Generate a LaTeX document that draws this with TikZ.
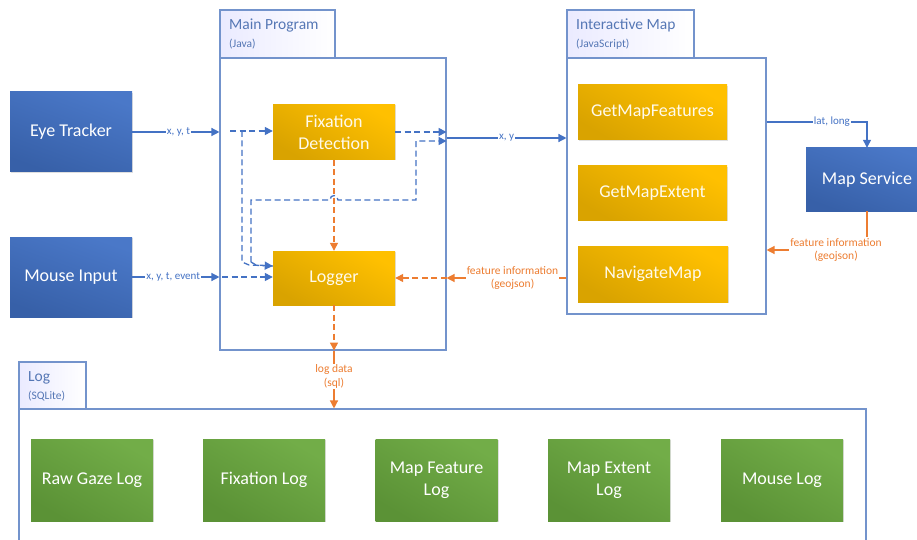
\documentclass[tikz,border=0pt]{standalone}
\usepackage{fontspec}
\setmainfont{Carlito}
\usetikzlibrary{arrows.meta,shadows,calc}
\definecolor{bluea}{HTML}{4A78C8}
\definecolor{blueb}{HTML}{3760A8}
\definecolor{orA}{HTML}{FFC000}
\definecolor{orB}{HTML}{D9A300}
\definecolor{grA}{HTML}{72AD48}
\definecolor{grB}{HTML}{5B9236}
\definecolor{frame}{HTML}{7393CC}
\definecolor{tabtxt}{HTML}{5577B5}
\definecolor{cblue}{HTML}{4472C4}
\definecolor{corange}{HTML}{ED7D31}
\tikzset{
  boxbase/.style={rectangle, inner sep=2pt, align=center, text=white,
    font=\fontsize{18}{22}\selectfont,
    drop shadow={shadow xshift=1pt, shadow yshift=-1pt, opacity=0.25}},
  bluebox/.style={boxbase, top color=bluea, bottom color=blueb, shading angle=-20,
    minimum width=122pt, minimum height=80pt},
  orbox/.style={boxbase, top color=orA, bottom color=orB, shading angle=-30, text=white!92!orA},
  grbox/.style={boxbase, top color=grA, bottom color=grB, shading angle=-30,
    minimum width=122pt, minimum height=82pt},
  container/.style={draw=frame, line width=1.1pt, fill=white},
  tab/.style={draw=frame, line width=1.1pt, left color=blue!8!white, right color=white},
  tabtitle/.style={anchor=base west, text=tabtxt, font=\fontsize{15.5}{18}\selectfont, inner sep=0pt},
  tabsub/.style={anchor=base west, text=tabtxt, font=\fontsize{11.5}{14}\selectfont, inner sep=0pt},
  bl/.style={draw=cblue, line width=1.3pt, -{Triangle[length=8pt,width=8pt]}},
  bld/.style={bl, dash pattern=on 6pt off 3.5pt},
  orl/.style={draw=corange, line width=1.3pt, -{Triangle[length=8pt,width=8pt]}},
  ord/.style={orl, dash pattern=on 6pt off 3.5pt},
  lblb/.style={fill=white, text=cblue, font=\fontsize{11}{13}\selectfont, inner sep=1pt, align=center},
  lblo/.style={fill=white, text=corange, font=\fontsize{11.5}{13.5}\selectfont, inner sep=1pt, align=center},
}
\begin{document}
\begin{tikzpicture}[x=1pt,y=-1pt]
\useasboundingbox (0,0) rectangle (917,540);
% containers
\node[tab, minimum width=115pt, minimum height=48pt, inner sep=0pt] (maintab) at (277.5,34) {};
\node[container, minimum width=226pt, minimum height=292pt, inner sep=0pt] (main) at (333,204) {};
\node[tabtitle] (mt1) at (229,30) {Main Program};
\node[tabsub] (mt2) at (229,48) {(Java)};
\node[tab, minimum width=127pt, minimum height=48pt, inner sep=0pt] (imtab) at (630.5,34) {};
\node[container, minimum width=199pt, minimum height=256pt, inner sep=0pt] (im) at (666.5,186) {};
\node[tabtitle] (it1) at (576,30) {Interactive Map};
\node[tabsub] (it2) at (576,48) {(JavaScript)};
\node[tab, minimum width=67pt, minimum height=47pt, inner sep=0pt] (logtab) at (52.5,385.5) {};
\node[container, minimum width=847pt, minimum height=150pt, inner sep=0pt] (log) at (442.5,484) {};
\node[tabtitle] (lt1) at (28,381) {Log};
\node[tabsub] (lt2) at (28,399) {(SQLite)};
% blue boxes
\node[bluebox] (eye) at (71,132) {Eye Tracker};
\node[bluebox] (mouse) at (71,277) {Mouse Input};
\node[bluebox, minimum height=63pt] (ms) at (867,179.5) {Map Service};
% orange
\node[orbox, minimum width=122pt, minimum height=55pt] (fd) at (334,132) {Fixation\\Detection};
\node[orbox, minimum width=122pt, minimum height=54pt] (logger) at (334,278) {Logger};
\node[orbox, minimum width=149pt, minimum height=55pt] (gmf) at (652.5,112.5) {GetMapFeatures};
\node[orbox, minimum width=149pt, minimum height=54pt] (gme) at (652.5,193) {GetMapExtent};
\node[orbox, minimum width=150pt, minimum height=56pt] (nav) at (653,274) {NavigateMap};
% green
\node[grbox] (g1) at (92,480) {Raw Gaze Log};
\node[grbox] (g2) at (264,480) {Fixation Log};
\node[grbox] (g3) at (436.5,480) {Map Feature\\Log};
\node[grbox] (g4) at (609,480) {Map Extent\\Log};
\node[grbox] (g5) at (782,480) {Mouse Log};
% coordinates
\coordinate (e1) at ($(eye.east)$);
\coordinate (e2) at (e1 -| main.west);
\coordinate (m1) at (mouse.east);
\coordinate (m2) at (m1 -| main.west);
\coordinate (d0) at (230,131);
\coordinate (d0m) at (222,277);
\coordinate (la) at ($(logger.west)+(0,-12)$);
\coordinate (fdr) at ($(fd.east)+(0,0)$);
\coordinate (fdr2) at (fdr -| main.east);
\coordinate (mx1) at (main.east |- 0,138);
\coordinate (mx2) at (im.west |- 0,138);
\coordinate (im1) at (im.east |- 0,122);
\coordinate (ms1) at (ms.north |- 0,122);
\coordinate (msb) at (ms.south);
\coordinate (imr) at (im.east |- 0,250);
\coordinate (iml) at (im.west |- 0,278);
\coordinate (mainr) at (main.east |- 0,278);
\coordinate (lgb) at (logger.south);
\coordinate (mainb) at (logger.south |- main.south);
\coordinate (logt) at (logger.south |- log.north);
% blue connectors
\draw[bl] (e1) -- node[lblb, pos=0.53] {x, y, t} (e2);
\draw[bl] (m1) -- node[lblb, pos=0.47] {x, y, t, event} (m2);
\draw[bld] (d0) -- (fd.west |- d0);
\draw[bld] (242,131) -- (242,262) -- (249,265) -- (la);
\draw[bld] (d0m) -- (logger.west |- d0m);
\draw[bld] (251,262) -- (251,200) -- (330,200) .. controls (330,194) and (338,194) .. (338,200) -- (416,200) -- (416,141) -- (main.east |- 0,141);
\draw[bld, -] (251,262) -- (256,265) -- (la);
\draw[bld] (fdr) -- (fdr2);
\draw[bl] (mx1) -- node[lblb, pos=0.5] {x, y} (mx2);
\draw[bl] (im1) -- node[lblb, pos=0.65] {lat, long} (ms1) -- (ms.north);
% orange connectors
\draw[ord] (fd.south) -- (logger.north);
\draw[orl] (msb) |- (imr);
\node[lblo] (fi1) at (836,250) {feature information\\(geojson)};
\draw[orl] (iml) -- node[lblo, pos=0.45] {feature information\\(geojson)} (mainr);
\draw[ord] (mainr) -- (logger.east);
\draw[ord] (lgb) -- (mainb);
\draw[orl] (mainb) -- node[lblo, pos=0.45] {log data\\(sql)} (logt);
\end{tikzpicture}
\end{document}
